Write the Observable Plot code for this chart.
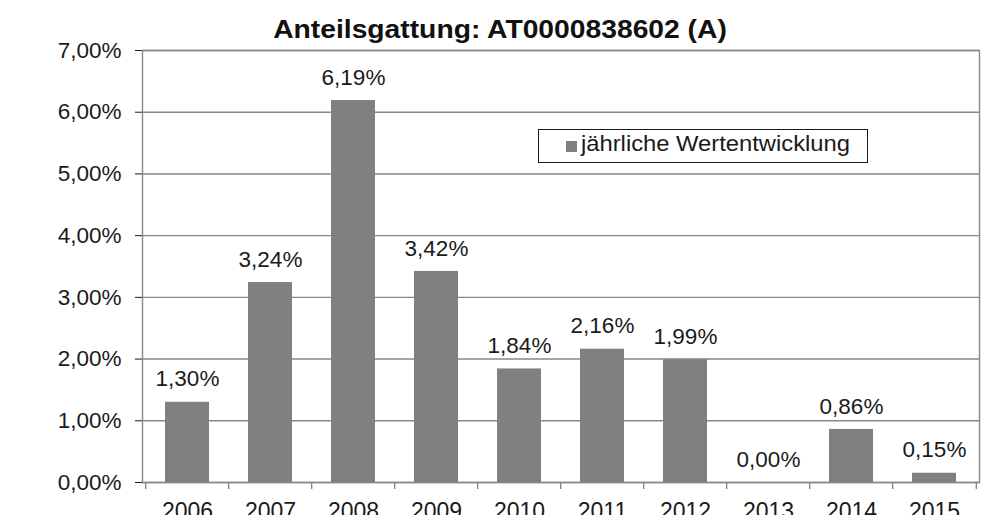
<!DOCTYPE html>
<html>
<head>
<meta charset="utf-8">
<script src="https://cdn.jsdelivr.net/npm/d3@7"></script>
<script src="https://cdn.jsdelivr.net/npm/@observablehq/plot@0.6"></script>
<style>
  html, body { margin: 0; padding: 0; background: #fff; }
  body { width: 982px; height: 515px; overflow: hidden; position: relative;
         font-family: "Liberation Sans", Arial, sans-serif; color: #1a1a1a; }
  #title { position: absolute; left: 500px; top: 17px; font-size: 25px; line-height: 25px; z-index: 5;
           font-weight: bold; white-space: nowrap; transform: translateX(-50%) scaleX(1.13); color: #111; }
  #chart { position: absolute; left: 0; top: 40px; z-index: 1; }
  #legendBox { position: absolute; left: 538px; top: 129px; width: 330px; height: 34px; z-index: 5;
               box-sizing: border-box; border: 1.5px solid #1a1a1a; background: #fff; }
  #legendSwatch { position: absolute; left: 566px; top: 141px; width: 11px; height: 11px; background: #808080; z-index: 6; }
  #legendText { position: absolute; left: 581px; top: 133px; font-size: 22px; line-height: 22px; z-index: 6;
                white-space: nowrap; transform-origin: left center; transform: scaleX(1.08); color: #1a1a1a; }
</style>
</head>
<body>
<div id="title">Anteilsgattung: AT0000838602 (A)</div>
<div id="chart"></div>
<div id="legendBox"></div>
<div id="legendSwatch"></div>
<div id="legendText">jährliche Wertentwicklung</div>
<script>
const years = ["2006", "2007", "2008", "2009", "2010", "2011", "2012", "2013", "2014", "2015"];
const values = [1.30, 3.24, 6.19, 3.42, 1.84, 2.16, 1.99, 0.00, 0.86, 0.15];
const valueLabels = ["1,30%", "3,24%", "6,19%", "3,42%", "1,84%", "2,16%", "1,99%", "0,00%", "0,86%", "0,15%"];
const yTicks = [0, 1, 2, 3, 4, 5, 6, 7];
const yTickLabels = ["0,00%", "1,00%", "2,00%", "3,00%", "4,00%", "5,00%", "6,00%", "7,00%"];

const data = years.map((y, i) => ({year: y, value: values[i], label: valueLabels[i]}));

const W = 982, H = 475, mL = 142, mR = 3;
const step = (W - mL - mR) / years.length;
const gridColor = "#878787";

const chart = Plot.plot({
  width: W,
  height: H,
  marginTop: 10,
  marginBottom: 33,
  marginLeft: mL,
  marginRight: mR,
  style: {fontFamily: "'Liberation Sans', Arial, sans-serif", fontSize: "22.5px", color: "#1a1a1a", background: "transparent", overflow: "visible"},
  x: {domain: years, paddingInner: 0.475, paddingOuter: 0.2375, label: null, tickSize: 0, tickPadding: 20},
  y: {domain: [0, 7], ticks: yTicks, tickFormat: d => yTickLabels[yTicks.indexOf(d)], label: null, tickSize: 7, tickPadding: 14},
  marks: [
    Plot.ruleY(yTicks, {stroke: gridColor, strokeWidth: 1.4}),
    Plot.frame({stroke: gridColor, strokeWidth: 1.4}),
    Plot.barY(data, {x: "year", y: "value", fill: "#808080"}),
    Plot.ruleX(years, {x: d => d, y1: 0, y2: 0, insetBottom: -7, dx: -step / 2, stroke: gridColor, strokeWidth: 1.4}),
    Plot.ruleX([years[years.length - 1]], {x: d => d, y1: 0, y2: 0, insetBottom: -7, dx: step / 2, stroke: gridColor, strokeWidth: 1.4}),
    Plot.text(data, {x: "year", y: "value", text: "label", dy: -23, fontSize: 22.5, fill: "#1a1a1a"})
  ]
});
chart.querySelectorAll("g[aria-label='x-axis tick label']").forEach(el => el.setAttribute("font-size", "23"));
document.getElementById("chart").appendChild(chart);
</script>
</body>
</html>
